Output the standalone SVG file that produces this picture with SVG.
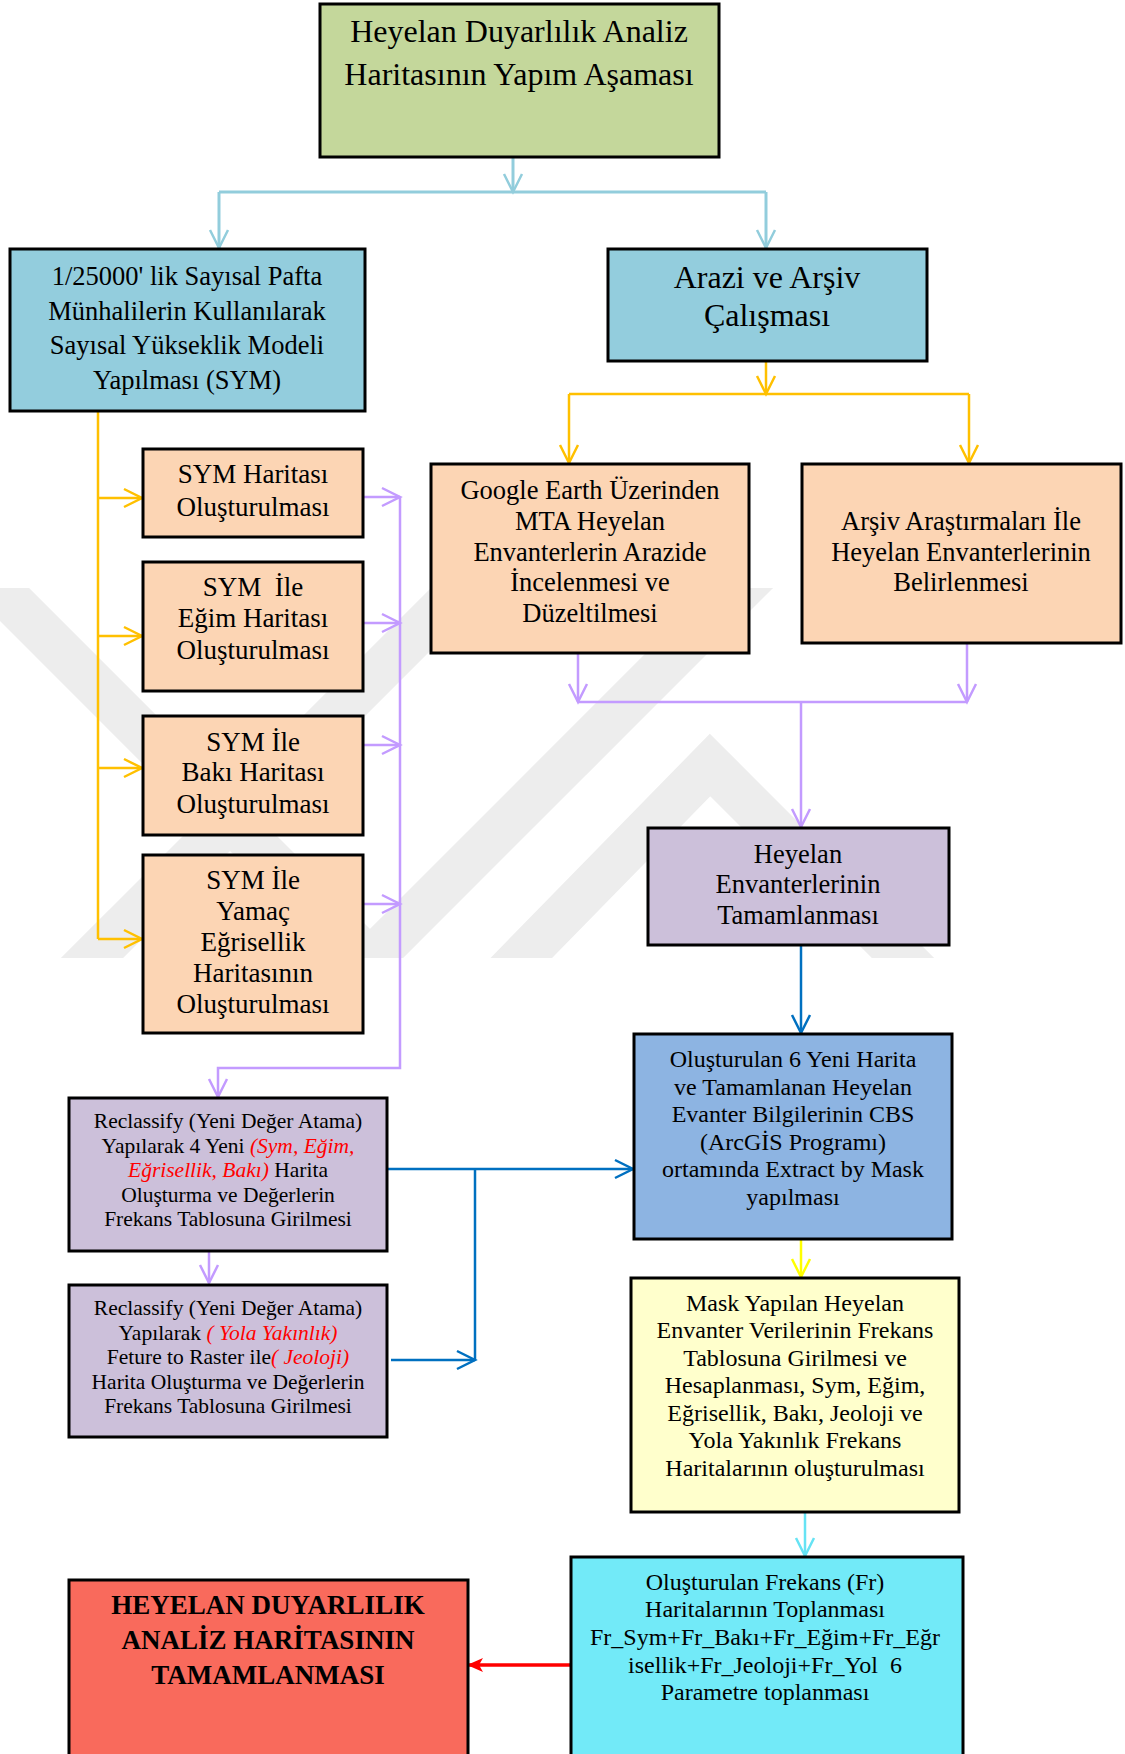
<svg xmlns="http://www.w3.org/2000/svg" width="1125" height="1754" viewBox="0 0 1125 1754">
<style>
  .box{stroke:#000;stroke-width:3}
  .t{font-family:"Liberation Serif","Times New Roman",serif;fill:#000;text-anchor:middle}
  .red{fill:#FF0000;font-style:italic}
  .c{fill:none;stroke-width:2.5}
  .lb{stroke:#92CDDC;stroke-width:3}
  .or{stroke:#FFC000}
  .pu{stroke:#C39BFF}
  .bl{stroke:#0070C0}
  .ye{stroke:#FFFF00}
  .cy{stroke:#66E3F4}
  .rd{stroke:#FF0000;stroke-width:3.5}
  .wm{fill:none;stroke:#EDEDED;stroke-width:44}
</style>
<defs>
  <marker id="aLb" markerUnits="userSpaceOnUse" markerWidth="22" markerHeight="22" viewBox="0 0 22 22" refX="19" refY="11" orient="auto"><path d="M1,2 L19,11 L1,20" fill="none" stroke="#92CDDC" stroke-width="2.5"/></marker>
  <marker id="aOr" markerUnits="userSpaceOnUse" markerWidth="22" markerHeight="22" viewBox="0 0 22 22" refX="19" refY="11" orient="auto"><path d="M1,2 L19,11 L1,20" fill="none" stroke="#FFC000" stroke-width="2.5"/></marker>
  <marker id="aPu" markerUnits="userSpaceOnUse" markerWidth="22" markerHeight="22" viewBox="0 0 22 22" refX="19" refY="11" orient="auto"><path d="M1,2 L19,11 L1,20" fill="none" stroke="#C39BFF" stroke-width="2.5"/></marker>
  <marker id="aBl" markerUnits="userSpaceOnUse" markerWidth="22" markerHeight="22" viewBox="0 0 22 22" refX="19" refY="11" orient="auto"><path d="M1,2 L19,11 L1,20" fill="none" stroke="#0070C0" stroke-width="2.5"/></marker>
  <marker id="aYe" markerUnits="userSpaceOnUse" markerWidth="22" markerHeight="22" viewBox="0 0 22 22" refX="19" refY="11" orient="auto"><path d="M1,2 L19,11 L1,20" fill="none" stroke="#FFFF00" stroke-width="2.5"/></marker>
  <marker id="aCy" markerUnits="userSpaceOnUse" markerWidth="22" markerHeight="22" viewBox="0 0 22 22" refX="19" refY="11" orient="auto"><path d="M1,2 L19,11 L1,20" fill="none" stroke="#66E3F4" stroke-width="2.5"/></marker>
  <marker id="aRd" markerUnits="userSpaceOnUse" markerWidth="16" markerHeight="14" viewBox="0 0 16 14" refX="14" refY="7" orient="auto"><path d="M0,0 L16,7 L0,14 L4,7 Z" fill="#FF0000"/></marker>
  <clipPath id="wmClip"><rect x="0" y="588" width="1000" height="370"/></clipPath>
</defs>
<rect width="1125" height="1754" fill="#FFFFFF"/>

<g id="watermark" clip-path="url(#wmClip)">
  <path class="wm" d="M-30,560 L400,990"/>
  <path class="wm" d="M60,990 L490,560"/>
  <path class="wm" d="M340,990 L770,560"/>
  <path class="wm" stroke-linejoin="miter" d="M490,990 L710,765 L935,990"/>
</g>

<g id="connectors">
  <path class="c lb" d="M513,158 V192" marker-end="url(#aLb)"/>
  <path class="c lb" d="M219,192 H766"/>
  <path class="c lb" d="M219,192 V248" marker-end="url(#aLb)"/>
  <path class="c lb" d="M766,192 V248" marker-end="url(#aLb)"/>

  <path class="c or" d="M766,362 V394" marker-end="url(#aOr)"/>
  <path class="c or" d="M569,394 H969"/>
  <path class="c or" d="M569,394 V463" marker-end="url(#aOr)"/>
  <path class="c or" d="M969,394 V463" marker-end="url(#aOr)"/>

  <path class="c or" d="M98,412 V939"/>
  <path class="c or" d="M98,498 H142" marker-end="url(#aOr)"/>
  <path class="c or" d="M98,636 H142" marker-end="url(#aOr)"/>
  <path class="c or" d="M98,768 H142" marker-end="url(#aOr)"/>
  <path class="c or" d="M98,939 H142" marker-end="url(#aOr)"/>

  <path class="c pu" d="M364,497 H400" marker-end="url(#aPu)"/>
  <path class="c pu" d="M364,623 H400" marker-end="url(#aPu)"/>
  <path class="c pu" d="M364,745 H400" marker-end="url(#aPu)"/>
  <path class="c pu" d="M364,904 H400" marker-end="url(#aPu)"/>
  <path class="c pu" d="M400,497 V1068 H218 V1097" marker-end="url(#aPu)"/>
  <path class="c pu" d="M209,1252 V1283" marker-end="url(#aPu)"/>

  <path class="c pu" d="M578,654 V702" marker-end="url(#aPu)"/>
  <path class="c pu" d="M967,644 V702" marker-end="url(#aPu)"/>
  <path class="c pu" d="M578,702 H967"/>
  <path class="c pu" d="M801,702 V827" marker-end="url(#aPu)"/>

  <path class="c bl" d="M801,946 V1033" marker-end="url(#aBl)"/>
  <path class="c bl" d="M388,1169 H633" marker-end="url(#aBl)"/>
  <path class="c bl" d="M475,1169 V1360"/>
  <path class="c bl" d="M391,1360 H475" marker-end="url(#aBl)"/>

  <path class="c ye" d="M801,1240 V1277" marker-end="url(#aYe)"/>
  <path class="c cy" d="M805,1513 V1556" marker-end="url(#aCy)"/>
  <path class="c rd" d="M570,1665 H469" marker-end="url(#aRd)"/>
</g>

<g id="n-top">
  <rect class="box" x="320" y="4" width="399" height="153" fill="#C4D79B"/>
  <text class="t" font-size="32"><tspan x="519" y="42">Heyelan Duyarlılık Analiz</tspan><tspan x="519" y="85">Haritasının Yapım Aşaması</tspan></text>
</g>

<g id="n-sym">
  <rect class="box" x="10" y="249" width="355" height="162" fill="#93CDDD"/>
  <text class="t" font-size="26.5"><tspan x="187" y="285">1/25000' lik Sayısal Pafta</tspan><tspan x="187" y="320">Münhalilerin Kullanılarak</tspan><tspan x="187" y="354">Sayısal Yükseklik Modeli</tspan><tspan x="187" y="389">Yapılması (SYM)</tspan></text>
</g>

<g id="n-arazi">
  <rect class="box" x="608" y="249" width="319" height="112" fill="#93CDDD"/>
  <text class="t" font-size="32"><tspan x="767" y="288">Arazi ve Arşiv</tspan><tspan x="767" y="326">Çalışması</tspan></text>
</g>

<g id="n-symharita">
  <rect class="box" x="143" y="449" width="220" height="88" fill="#FCD5B4"/>
  <text class="t" font-size="27"><tspan x="253" y="483">SYM Haritası</tspan><tspan x="253" y="516">Oluşturulması</tspan></text>
</g>

<g id="n-egim">
  <rect class="box" x="143" y="562" width="220" height="129" fill="#FCD5B4"/>
  <text class="t" font-size="27"><tspan x="253" y="596" xml:space="preserve">SYM  İle</tspan><tspan x="253" y="627">Eğim Haritası</tspan><tspan x="253" y="659">Oluşturulması</tspan></text>
</g>

<g id="n-baki">
  <rect class="box" x="143" y="716" width="220" height="119" fill="#FCD5B4"/>
  <text class="t" font-size="27"><tspan x="253" y="751">SYM İle</tspan><tspan x="253" y="781">Bakı Haritası</tspan><tspan x="253" y="813">Oluşturulması</tspan></text>
</g>

<g id="n-yamac">
  <rect class="box" x="143" y="855" width="220" height="178" fill="#FCD5B4"/>
  <text class="t" font-size="27"><tspan x="253" y="889">SYM İle</tspan><tspan x="253" y="920">Yamaç</tspan><tspan x="253" y="951">Eğrisellik</tspan><tspan x="253" y="982">Haritasının</tspan><tspan x="253" y="1013">Oluşturulması</tspan></text>
</g>

<g id="n-google">
  <rect class="box" x="431" y="464" width="318" height="189" fill="#FCD5B4"/>
  <text class="t" font-size="26.5"><tspan x="590" y="499">Google Earth Üzerinden</tspan><tspan x="590" y="530">MTA Heyelan</tspan><tspan x="590" y="561">Envanterlerin Arazide</tspan><tspan x="590" y="591">İncelenmesi ve</tspan><tspan x="590" y="622">Düzeltilmesi</tspan></text>
</g>

<g id="n-arsiv">
  <rect class="box" x="802" y="464" width="319" height="179" fill="#FCD5B4"/>
  <text class="t" font-size="26.5"><tspan x="961" y="530">Arşiv Araştırmaları İle</tspan><tspan x="961" y="561">Heyelan Envanterlerinin</tspan><tspan x="961" y="591">Belirlenmesi</tspan></text>
</g>

<g id="n-tamam">
  <rect class="box" x="648" y="828" width="301" height="117" fill="#CCC0DA"/>
  <text class="t" font-size="26.5"><tspan x="798" y="863">Heyelan</tspan><tspan x="798" y="893">Envanterlerinin</tspan><tspan x="798" y="924">Tamamlanması</tspan></text>
</g>

<g id="n-recl1">
  <rect class="box" x="69" y="1098" width="318" height="153" fill="#CCC0DA"/>
  <text class="t" font-size="21.5"><tspan x="228" y="1128">Reclassify (Yeni Değer Atama)</tspan><tspan x="228" y="1153">Yapılarak 4 Yeni <tspan class="red">(Sym, Eğim,</tspan></tspan><tspan x="228" y="1177"><tspan class="red">Eğrisellik, Bakı)</tspan> Harita</tspan><tspan x="228" y="1202">Oluşturma ve Değerlerin</tspan><tspan x="228" y="1226">Frekans Tablosuna Girilmesi</tspan></text>
</g>

<g id="n-recl2">
  <rect class="box" x="69" y="1285" width="318" height="152" fill="#CCC0DA"/>
  <text class="t" font-size="21.5"><tspan x="228" y="1315">Reclassify (Yeni Değer Atama)</tspan><tspan x="228" y="1340">Yapılarak <tspan class="red">( Yola Yakınlık)</tspan></tspan><tspan x="228" y="1364">Feture to Raster ile<tspan class="red">( Jeoloji)</tspan></tspan><tspan x="228" y="1389">Harita Oluşturma ve Değerlerin</tspan><tspan x="228" y="1413">Frekans Tablosuna Girilmesi</tspan></text>
</g>

<g id="n-cbs">
  <rect class="box" x="634" y="1034" width="318" height="205" fill="#8DB4E2"/>
  <text class="t" font-size="24"><tspan x="793" y="1067">Oluşturulan 6 Yeni Harita</tspan><tspan x="793" y="1094.5">ve Tamamlanan Heyelan</tspan><tspan x="793" y="1122">Evanter Bilgilerinin CBS</tspan><tspan x="793" y="1149.5">(ArcGİS Programı)</tspan><tspan x="793" y="1177">ortamında Extract by Mask</tspan><tspan x="793" y="1204.5">yapılması</tspan></text>
</g>

<g id="n-mask">
  <rect class="box" x="631" y="1278" width="328" height="234" fill="#FFFFCC"/>
  <text class="t" font-size="24"><tspan x="795" y="1311">Mask Yapılan Heyelan</tspan><tspan x="795" y="1338">Envanter Verilerinin Frekans</tspan><tspan x="795" y="1366">Tablosuna Girilmesi ve</tspan><tspan x="795" y="1393">Hesaplanması, Sym, Eğim,</tspan><tspan x="795" y="1421">Eğrisellik, Bakı, Jeoloji ve</tspan><tspan x="795" y="1448">Yola Yakınlık Frekans</tspan><tspan x="795" y="1476">Haritalarının oluşturulması</tspan></text>
</g>

<g id="n-frekans">
  <rect class="box" x="571" y="1557" width="392" height="205" fill="#72EAF8"/>
  <text class="t" font-size="24"><tspan x="765" y="1590">Oluşturulan Frekans (Fr)</tspan><tspan x="765" y="1617">Haritalarının Toplanması</tspan><tspan x="765" y="1645">Fr_Sym+Fr_Bakı+Fr_Eğim+Fr_Eğr</tspan><tspan x="765" y="1673" xml:space="preserve">isellik+Fr_Jeoloji+Fr_Yol  6</tspan><tspan x="765" y="1700">Parametre toplanması</tspan></text>
</g>

<g id="n-final">
  <rect class="box" x="69" y="1580" width="399" height="182" fill="#F96A5C"/>
  <text class="t" font-size="27" font-weight="bold"><tspan x="268" y="1614">HEYELAN DUYARLILIK</tspan><tspan x="268" y="1649">ANALİZ HARİTASININ</tspan><tspan x="268" y="1684">TAMAMLANMASI</tspan></text>
</g>
</svg>
